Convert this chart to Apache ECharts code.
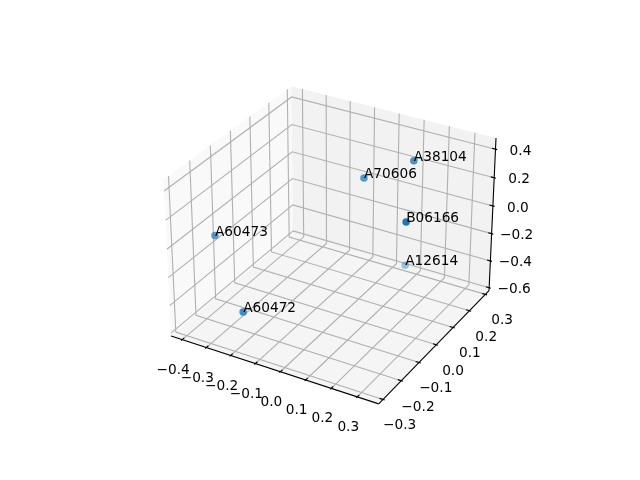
<!DOCTYPE html>
<html><head><meta charset="utf-8"><style>html,body{margin:0;background:#fff}#c{width:640px;height:480px}</style>
<script src="https://cdn.jsdelivr.net/npm/echarts@6/dist/echarts.min.js"></script></head><body><div id="c"></div>
<script>
const xTicks=[-0.4,-0.3,-0.2,-0.1,0,0.1,0.2,0.3];
const yTicks=[-0.3,-0.2,-0.1,0,0.1,0.2,0.3];
const zTicks=[-0.6,-0.4,-0.2,0,0.2,0.4];
const names=['A38104','A70606','B06166','A12614','A60473','A60472'];
const xValues=[0.187,0.024,0.315,0.071,-0.39,-0.174];
const yValues=[0.136,0.091,-0.092,0.272,-0.158,-0.287];
const zValues=[0.423,0.274,0.313,-0.536,-0.063,-0.339];
const xLim=[-0.43,0.365], yLim=[-0.31,0.31], zLim=[-0.6,0.455];
const dist=10,box=[1.1429,1.1429,0.8572];
const el=30*Math.PI/180,az=-60*Math.PI/180;
const w=[Math.cos(el)*Math.cos(az),Math.cos(el)*Math.sin(az),Math.sin(el)];
const R=box.map(b=>b/2);const eye=R.map((r,i)=>r+dist*w[i]);
function cross(a,b){return [a[1]*b[2]-a[2]*b[1],a[2]*b[0]-a[0]*b[2],a[0]*b[1]-a[1]*b[0]];}
function unit(a){const n=Math.hypot(...a);return a.map(v=>v/n);}
function dot(a,b){return a[0]*b[0]+a[1]*b[1]+a[2]*b[2];}
const u=unit(cross([0,0,1],w)),v=cross(w,u);
const lims=[xLim,yLim,zLim];
function toBox(p){return p.map((c,i)=>(c-lims[i][0])/(lims[i][1]-lims[i][0])*box[i]);}
function project(p){const q=toBox(p).map((c,i)=>c-eye[i]);const zv=dot(q,w);return [dot(q,u)/-zv,dot(q,v)/-zv];}
const ext=lims.map(l=>[l[0]-(l[1]-l[0])/48,l[1]+(l[1]-l[0])/48]);
const [xE,yE,zE]=ext;
const prims=[];
const PANE=(pts,c)=>prims.push({t:'polygon',pts:pts.map(project),c});
PANE([[xE[0],yE[0],zE[0]],[xE[0],yE[1],zE[0]],[xE[0],yE[1],zE[1]],[xE[0],yE[0],zE[1]]],'#f9f9f9');
PANE([[xE[0],yE[1],zE[0]],[xE[1],yE[1],zE[0]],[xE[1],yE[1],zE[1]],[xE[0],yE[1],zE[1]]],'#f2f2f2');
PANE([[xE[0],yE[0],zE[0]],[xE[1],yE[0],zE[0]],[xE[1],yE[1],zE[0]],[xE[0],yE[1],zE[0]]],'#f5f5f5');
const LINE=(pts,c)=>prims.push({t:'polyline',pts:pts.map(project),c});
const GRID='#b0b0b0';
xTicks.forEach(t=>LINE([[t,yE[0],zE[0]],[t,yE[1],zE[0]],[t,yE[1],zE[1]]],GRID));
yTicks.forEach(t=>LINE([[xE[1],t,zE[0]],[xE[0],t,zE[0]],[xE[0],t,zE[1]]],GRID));
zTicks.forEach(t=>LINE([[xE[0],yE[0],t],[xE[0],yE[1],t],[xE[1],yE[1],t]],GRID));
LINE([[xE[0],yE[0],zE[0]],[xE[1],yE[0],zE[0]]],'#000');
LINE([[xE[1],yE[0],zE[0]],[xE[1],yE[1],zE[0]]],'#000');
LINE([[xE[1],yE[1],zE[0]],[xE[1],yE[1],zE[1]]],'#000');
const dy=(yLim[1]-yLim[0])/12,dx=(xLim[1]-xLim[0])/12;
xTicks.forEach(t=>LINE([[t,yE[0]+0.2*dy,zE[0]],[t,yE[0]-0.1*dy,zE[0]]],'#000'));
yTicks.forEach(t=>LINE([[xE[1]-0.2*dx,t,zE[0]],[xE[1]+0.1*dx,t,zE[0]]],'#000'));
zTicks.forEach(t=>LINE([[xE[1]-0.2*dx,yE[1],t],[xE[1]+0.1*dx,yE[1],t]],'#000'));
const fmt=t=>t.toFixed(1).replace('-','\u2212');
const texts=[];
xTicks.forEach(t=>texts.push({p:project([t,yE[0],zE[0]]),s:fmt(t),o:[-9,30.5]}));
yTicks.forEach(t=>texts.push({p:project([xE[1],t,zE[0]]),s:fmt(t),o:[16.7,26.3]}));
zTicks.forEach(t=>texts.push({p:project([xE[1],yE[1],t]),s:fmt(t),o:[25,2]}));
const pts3=names.map((_,i)=>[xValues[i],yValues[i],zValues[i]]);
const depth=pts3.map(p=>dot(toBox(p).map((c,i)=>c-R[i]),w));
const dMin=Math.min(...depth),dMax=Math.max(...depth);
const alpha=d=>0.42+0.58*(d-dMin)/(dMax-dMin);
const FS=13.7,FF='"DejaVu Sans"';
const chart=echarts.init(document.getElementById('c'),null,{renderer:'canvas'});
const renderPrim=(params,api)=>{const d=prims[params.dataIndex];const pts=d.pts.map(p=>api.coord(p));
 return d.t==='polygon'?{type:'polygon',shape:{points:pts},style:{fill:d.c},silent:true}:{type:'polyline',shape:{points:pts},style:{stroke:d.c,lineWidth:1.1,fill:null},silent:true};};
const renderText=(params,api)=>{const d=texts[params.dataIndex];const c=api.coord(d.p);
 return {type:'text',x:c[0]+d.o[0],y:c[1]+d.o[1],style:{text:d.s,align:'center',verticalAlign:'middle',font:FS+'px '+FF,fill:'#000'},silent:true};};
const renderName=(params,api)=>{const c=api.coord(project(pts3[params.dataIndex]));
 return {type:'text',x:c[0],y:c[1]-3.4,style:{text:names[params.dataIndex],align:'left',verticalAlign:'middle',font:FS+'px '+FF,fill:'#000'},silent:true};};
chart.setOption({animation:false,backgroundColor:'#fff',
 grid:{left:143.2,top:57.6,width:369.6,height:369.6},
 xAxis:{type:'value',min:-0.095,max:0.09,show:false},
 yAxis:{type:'value',min:-0.095,max:0.09,show:false},
 series:[
 {type:'custom',clip:false,renderItem:renderPrim,data:prims.map((_,i)=>i),encode:{x:[],y:[]},z:1},
 {type:'custom',clip:false,renderItem:renderText,data:texts.map((_,i)=>i),z:2},
 {type:'scatter',z:5,clip:false,silent:true,symbolSize:7.5,data:pts3.map((p,i)=>({value:project(p),itemStyle:{color:'#1f77b4',opacity:alpha(depth[i])}}))},
 {type:'custom',clip:false,renderItem:renderName,data:names.map((_,i)=>i),z:6}
 ]
});
</script></body></html>
